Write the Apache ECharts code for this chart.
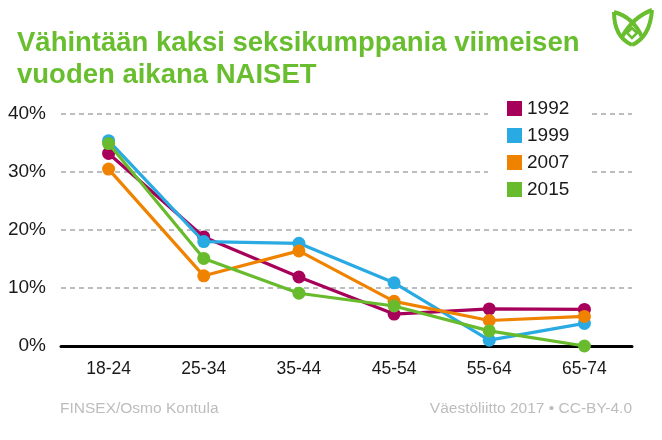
<!DOCTYPE html>
<html><head><meta charset="utf-8">
<script src="https://cdn.jsdelivr.net/npm/echarts@6/dist/echarts.min.js"></script>
<style>html,body{margin:0;padding:0;background:#fff}#c{width:662px;height:440px}</style>
</head><body><div id="c"></div>
<script>
var categories = ['18-24','25-34','35-44','45-54','55-64','65-74'];
var years = ['1992','1999','2007','2015'];
var v1992 = [33.2, 18.8, 11.9, 5.5, 6.4, 6.3];
var v1999 = [35.4, 18.0, 17.7, 10.9, 1.0, 3.9];
var v2007 = [30.5, 12.1, 16.4, 7.7, 4.4, 5.1];
var v2015 = [34.9, 15.1, 9.1, 6.9, 2.6, 0.0];
var yTicks = [0, 10, 20, 30, 40];
var colors = ['#a6005b', '#2aaae2', '#ef8300', '#67bb2c'];
var seriesData = [v1992, v1999, v2007, v2015];

var font = '"Liberation Sans", Arial, sans-serif';
var G = '#69be2f';
var chart = echarts.init(document.getElementById('c'), null, {renderer: 'canvas'});
chart.setOption({
  animation: false,
  backgroundColor: '#fff',
  textStyle: {fontFamily: font},
  title: {
    text: 'Vähintään kaksi seksikumppania viimeisen\nvuoden aikana NAISET',
    left: 12, top: 22,
    textStyle: {color: G, fontSize: 27.5, fontWeight: 'bold', lineHeight: 32, fontFamily: font}
  },
  grid: {left: 61, right: 30, top: 114, bottom: 94},
  legend: {
    data: years,
    orient: 'vertical',
    left: 488, top: 93,
    padding: [6, 20, 4, 19],
    backgroundColor: '#fff',
    icon: 'rect',
    itemWidth: 15, itemHeight: 15, itemGap: 8,
    textStyle: {fontSize: 19, color: '#1a1a1a', fontFamily: font}
  },
  xAxis: {
    type: 'category', data: categories, boundaryGap: true,
    axisLine: {lineStyle: {color: '#000', width: 3}},
    axisTick: {show: false},
    axisLabel: {fontSize: 17.5, color: '#1a1a1a', margin: 14, fontFamily: font},
    splitLine: {show: false}
  },
  yAxis: {
    type: 'value', min: yTicks[0], max: yTicks[yTicks.length-1], interval: 10,
    axisLine: {show: false}, axisTick: {show: false},
    axisLabel: {fontSize: 19, color: '#1a1a1a', margin: 15, formatter: '{value}%', fontFamily: font},
    splitLine: {lineStyle: {color: '#a8a8a8', type: [5, 4], width: 1.5}}
  },
  series: years.map(function (y, i) {
    return {
      name: y, type: 'line', data: seriesData[i],
      symbol: 'circle', symbolSize: 13,
      lineStyle: {color: colors[i], width: 3.2},
      itemStyle: {color: colors[i]},
      z: 3 + i
    };
  }),
  graphic: [
    {type: 'text', x: 60, y: 401, style: {text: 'FINSEX/Osmo Kontula', fill: '#bdbdbd', font: '15.5px ' + font}},
    {type: 'text', x: 632, y: 401, style: {text: 'Väestöliitto 2017 • CC-BY-4.0', fill: '#bdbdbd', font: '15.5px ' + font, align: 'right'}},
    {type: 'bezierCurve', shape: {x1: 614, y1: 12, cpx1: 614, cpy1: 37, x2: 632, y2: 45}, style: {stroke: G, lineWidth: 4, fill: null}},
    {type: 'bezierCurve', shape: {x1: 652, y1: 10, cpx1: 650, cpy1: 37, x2: 632, y2: 45}, style: {stroke: G, lineWidth: 4, fill: null}},
    {type: 'bezierCurve', shape: {x1: 614, y1: 12, cpx1: 633, cpy1: 17, x2: 642, y2: 37}, style: {stroke: G, lineWidth: 4, fill: null}},
    {type: 'bezierCurve', shape: {x1: 652, y1: 10, cpx1: 633, cpy1: 17, x2: 622, y2: 37}, style: {stroke: G, lineWidth: 4, fill: null}},
    {type: 'polygon', shape: {points: [[632, 28], [637, 33], [632, 38], [627, 33]]}, style: {stroke: G, lineWidth: 2.5, fill: '#fff'}}
  ]
});
</script></body></html>
